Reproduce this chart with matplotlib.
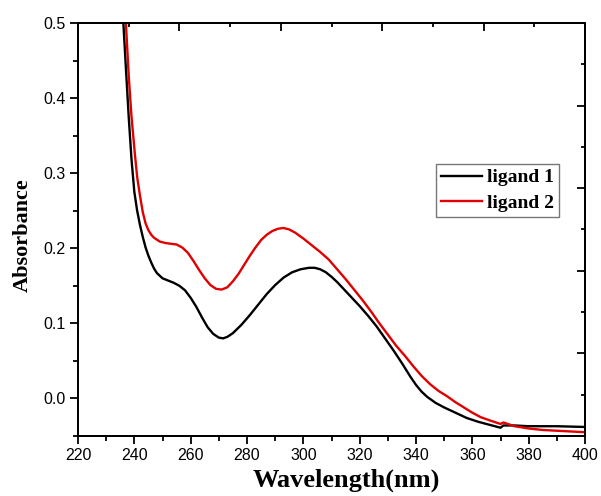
import matplotlib
matplotlib.use("Agg")
import matplotlib.pyplot as plt
from matplotlib.ticker import MultipleLocator, FormatStrFormatter

# ligand 1 (black)
wl1 = [235, 236.1, 237, 238, 239, 240, 241, 242, 243, 244, 245, 246, 247, 248, 250,
       252, 254, 256, 258, 260, 262, 264, 266, 268, 270, 271.5, 273, 275, 278, 281,
       284, 287, 290, 293, 296, 299, 302, 304, 306, 308, 310, 312, 314, 316, 318,
       320, 323, 326, 329, 332, 335, 338, 340, 342, 344, 347, 350, 354, 358, 362,
       366, 370, 371, 375, 380, 390, 400]
abs1 = [0.56, 0.50, 0.44, 0.375, 0.318, 0.275, 0.250, 0.231, 0.215, 0.201, 0.190,
        0.181, 0.173, 0.167, 0.160, 0.157, 0.154, 0.150, 0.144, 0.134, 0.122, 0.108,
        0.095, 0.086, 0.081, 0.080, 0.082, 0.087, 0.098, 0.111, 0.125, 0.139, 0.151,
        0.161, 0.168, 0.172, 0.174, 0.174, 0.172, 0.168, 0.162, 0.155, 0.147, 0.139,
        0.131, 0.123, 0.110, 0.096, 0.080, 0.064, 0.047, 0.029, 0.018, 0.009, 0.002,
        -0.006, -0.012, -0.019, -0.026, -0.031, -0.035, -0.039, -0.036, -0.036,
        -0.037, -0.037, -0.038]

# ligand 2 (red)
wl2 = [236, 237, 238, 239, 240.2, 241, 242, 243, 244, 245, 246, 247, 249, 251, 253,
       255, 257, 259, 261, 263, 265, 267, 269, 271, 273, 275, 277, 279, 281, 283,
       285, 287, 289, 291, 293, 295, 297, 300, 303, 306, 309, 312, 315, 318, 321,
       324, 327, 330, 333, 336, 339, 342, 345, 348, 351, 354, 357, 360, 363, 366,
       370, 371, 375, 380, 385, 390, 400]
abs2 = [0.56, 0.50, 0.43, 0.375, 0.325, 0.295, 0.270, 0.248, 0.233, 0.224, 0.218,
        0.214, 0.209, 0.207, 0.206, 0.205, 0.201, 0.194, 0.183, 0.171, 0.160, 0.151,
        0.146, 0.145, 0.148, 0.156, 0.166, 0.178, 0.190, 0.201, 0.211, 0.218, 0.223,
        0.226, 0.227, 0.225, 0.221, 0.213, 0.204, 0.195, 0.185, 0.172, 0.159, 0.145,
        0.131, 0.116, 0.100, 0.085, 0.070, 0.057, 0.043, 0.030, 0.019, 0.010, 0.003,
        -0.005, -0.012, -0.019, -0.025, -0.029, -0.034, -0.032, -0.037, -0.040,
        -0.042, -0.043, -0.045]

labels = ["ligand 1", "ligand 2"]
colors = ["black", "#e00000"]

fig = plt.figure(figsize=(6.01, 4.96), dpi=100)
ax = fig.add_axes([0.1298, 0.121, 0.8436, 0.8326])

ax.plot(wl1, abs1, color=colors[0], lw=1.7, label=labels[0],
        solid_joinstyle="round")
ax.plot(wl2, abs2, color=colors[1], lw=1.7, label=labels[1],
        solid_joinstyle="round")

ax.set_xlim(220, 400)
ax.set_ylim(-0.05, 0.5)
ax.xaxis.set_major_locator(MultipleLocator(20))
ax.xaxis.set_minor_locator(MultipleLocator(10))
ax.yaxis.set_major_locator(MultipleLocator(0.1))
ax.yaxis.set_minor_locator(MultipleLocator(0.05))
ax.yaxis.set_major_formatter(FormatStrFormatter("%.1f"))
ax.tick_params(which="major", direction="out", length=6, width=1.3,
               labelsize=11.5, pad=3)
ax.tick_params(which="minor", direction="out", length=3.5, width=1.3)
for lab in ax.get_xticklabels() + ax.get_yticklabels():
    lab.set_family(["Liberation Sans", "DejaVu Sans"])
for s in ax.spines.values():
    s.set_linewidth(1.3)

# right and top tick marks (inward, unlabeled)
axr = ax.twinx()
axr.set_ylim(0, 1)
axr.yaxis.set_major_locator(MultipleLocator(0.2))
axr.yaxis.set_minor_locator(MultipleLocator(0.1))
axr.tick_params(which="major", direction="in", length=6, width=1.3, labelright=False)
axr.tick_params(which="minor", direction="in", length=3, width=1.3)
axt = ax.twiny()
axt.set_xlim(0, 1)
axt.xaxis.set_major_locator(MultipleLocator(0.2))
axt.xaxis.set_minor_locator(MultipleLocator(0.1))
axt.tick_params(which="major", direction="in", length=6, width=1.3, labeltop=False)
axt.tick_params(which="minor", direction="in", length=3, width=1.3)
for a in (axr, axt):
    for s in a.spines.values():
        s.set_linewidth(1.3)

serif = ["Liberation Serif", "DejaVu Serif"]
ax.set_xlabel("Wavelength(nm)", fontsize=19, fontweight="bold", family=serif)
ax.set_ylabel("Absorbance", fontsize=16, fontweight="bold", family=serif)
ax.xaxis.set_label_coords(0.529, -0.078)
ax.yaxis.set_label_coords(-0.09, 0.487)

leg = ax.legend(loc="upper left", bbox_to_anchor=(0.706, 0.659), borderaxespad=0,
                prop={"family": serif, "weight": "bold", "size": 14},
                fancybox=False, frameon=True, edgecolor="#555555",
                handlelength=2.1, handletextpad=0.3, borderpad=0.25,
                labelspacing=0.4)
leg.get_frame().set_linewidth(1.0)
leg.set_zorder(5)

fig.savefig("out.png", dpi=100, facecolor="white")
